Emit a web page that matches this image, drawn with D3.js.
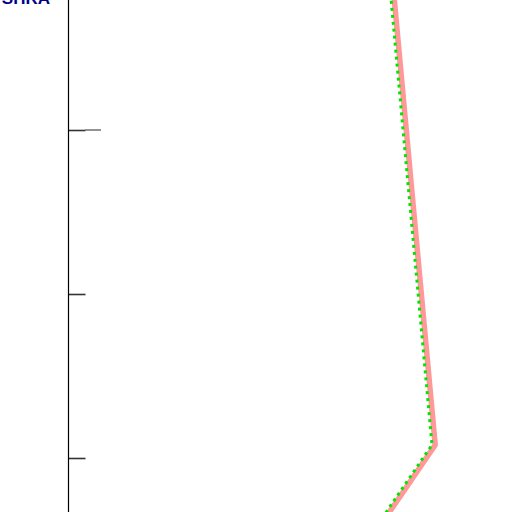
<!DOCTYPE html>
<html>
<head>
<script src="https://d3js.org/d3.v7.min.js"></script>
<style>
  body { margin: 0; background: #fff; }
</style>
</head>
<body>
<div id="chart"></div>
<script>
// levels on the vertical axis, and the two profiles at those levels
var levels = [4, 1.08, 0.5];
var pinkValues = [40.4, 45.9, 37.8];
var greenValues = [40.0, 45.5, 37.4];
var yTicks = [1, 2, 3];
var markLevel = 3;
var label = "SHRA";

var width = 512, height = 512;

var svg = d3.select("#chart").append("svg")
    .attr("width", width)
    .attr("height", height);

var y = d3.scaleLinear().domain([0, 4]).range([622, -34]);
var x = d3.scaleLinear().domain([0, 50]).range([68, 468]);

// axis
var yAxis = d3.axisRight(y).tickValues(yTicks).tickSize(17).tickFormat("");
var ga = svg.append("g").attr("transform", "translate(68.5,0)").call(yAxis);
ga.select(".domain").remove();
ga.selectAll(".tick line").attr("stroke", "#333").attr("stroke-width", 1.6);
ga.append("line")
    .attr("x1", 0).attr("x2", 0)
    .attr("y1", 0).attr("y2", height)
    .attr("stroke", "#000").attr("stroke-width", 1.2);

// longer marker at one level
svg.append("line")
    .attr("x1", 85).attr("x2", 101)
    .attr("y1", y(markLevel)).attr("y2", y(markLevel))
    .attr("stroke", "#777").attr("stroke-width", 1.6);

var line = d3.line()
    .x(function (d) { return x(d[0]); })
    .y(function (d) { return y(d[1]); });

svg.append("path")
    .datum(d3.zip(pinkValues, levels))
    .attr("d", line)
    .attr("fill", "none")
    .attr("stroke", "#ff9999")
    .attr("stroke-width", 5.5)
    .attr("stroke-linejoin", "round");

svg.append("path")
    .datum(d3.zip(greenValues, levels))
    .attr("d", line)
    .attr("fill", "none")
    .attr("stroke", "#00e600")
    .attr("stroke-width", 3)
    .attr("stroke-dasharray", "3,4");

svg.append("text")
    .attr("x", 50)
    .attr("y", 4)
    .attr("text-anchor", "end")
    .attr("font-family", "Liberation Sans, Arial, sans-serif")
    .attr("font-weight", "bold")
    .attr("font-size", 17)
    .attr("fill", "#00008b")
    .text(label);
</script>
</body>
</html>
